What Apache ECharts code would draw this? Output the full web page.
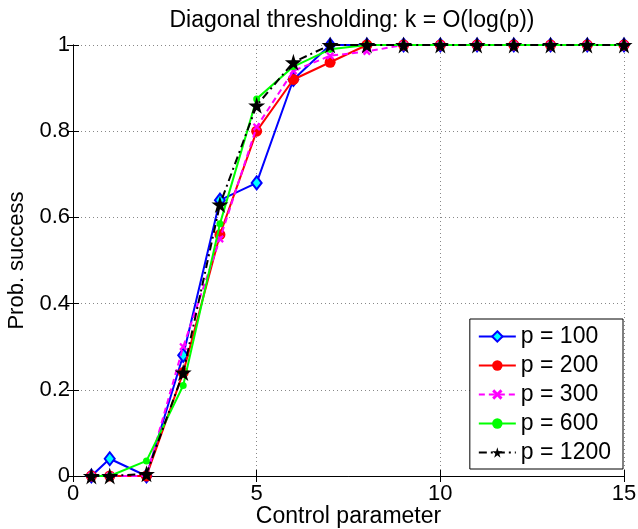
<!DOCTYPE html>
<html><head><meta charset="utf-8">
<script src="https://cdn.jsdelivr.net/npm/echarts@6/dist/echarts.min.js"></script>
<style>html,body{margin:0;padding:0;background:#fff}#c{width:638px;height:529px}</style>
</head><body><div id="c"></div>
<script>
const xs = [0.5, 1, 2, 3, 4, 5, 6, 7, 8, 9, 10, 11, 12, 13, 14, 15];
const p100  = [0, 0.04, 0, 0.28, 0.64, 0.68, 0.92, 1.0, 1, 1, 1, 1, 1, 1, 1, 1];
const p200  = [0, 0, 0, 0.24, 0.56, 0.80, 0.92, 0.96, 1, 1, 1, 1, 1, 1, 1, 1];
const p300  = [0, 0, 0, 0.30, 0.55, 0.81, 0.94, 0.975, 0.985, 1, 1, 1, 1, 1, 1, 1];
const p600  = [0, 0, 0.035, 0.21, 0.585, 0.875, 0.95, 0.99, 1, 1, 1, 1, 1, 1, 1, 1];
const p1200 = [0, 0, 0.005, 0.24, 0.63, 0.86, 0.96, 1.0, 1, 1, 1, 1, 1, 1, 1, 1];
const names = ['p = 100', 'p = 200', 'p = 300', 'p = 600', 'p = 1200'];
const xTicks = [0, 5, 10, 15];
const yTicks = [0, 0.2, 0.4, 0.6, 0.8, 1];

const FONT = 'Liberation Sans, Arial, sans-serif';
const starPath = 'path://M50,0 L61,35 L98,35 L68,57 L79,91 L50,70 L21,91 L32,57 L2,35 L39,35 Z';
const xPath = 'path://M0,2 L2,0 L5,3 L8,0 L10,2 L7,5 L10,8 L8,10 L5,7 L2,10 L0,8 L3,5 Z';
const pair = arr => xs.map((x, i) => [x, arr[i]]);

const chart = echarts.init(document.getElementById('c'));
const axisCommon = {
  axisLine: {show: true, lineStyle: {color: '#000', width: 1}},
  axisTick: {show: true, inside: true, length: 6, lineStyle: {color: '#000'}},
  splitLine: {show: false}
};
const gridLine = {show: true, lineStyle: {color: '#888', type: [1, 3], width: 1}};
chart.setOption({
  animation: false,
  backgroundColor: '#fff',
  title: {text: 'Diagonal thresholding: k = O(log(p))', left: 347, top: 4, textAlign: 'center',
    textStyle: {fontFamily: FONT, fontSize: 23, fontWeight: 'normal', color: '#000'}},
  grid: {left: 73, right: 14, top: 45, bottom: 53, show: false, containLabel: false, outerBoundsMode: 'none'},
  legend: {
    data: names, orient: 'vertical', right: 15, top: 319,
    backgroundColor: '#fff', borderColor: '#000', borderWidth: 1,
    padding: [6, 12, 5, 8], itemWidth: 37, itemHeight: 13, itemGap: 6,
    textStyle: {fontFamily: FONT, fontSize: 23, lineHeight: 22, color: '#000'}
  },
  xAxis: [
    Object.assign({type: 'value', min: 0, max: 15, interval: 5, position: 'bottom',
      name: 'Control parameter', nameLocation: 'middle', nameGap: 29, nameMoveOverlap: false,
      nameTextStyle: {fontFamily: FONT, fontSize: 23, color: '#000'},
      axisLabel: {fontFamily: FONT, fontSize: 22, color: '#000', margin: 7,
        formatter: v => xTicks.includes(v) ? String(v) : ''},
    }, axisCommon, {splitLine: gridLine}),
    Object.assign({type: 'value', min: 0, max: 15, interval: 5, position: 'top',
      axisLabel: {show: false}}, axisCommon)
  ],
  yAxis: [
    Object.assign({type: 'value', min: 0, max: 1, interval: 0.2, position: 'left',
      name: 'Prob. success', nameLocation: 'middle', nameGap: 45,
      nameTextStyle: {fontFamily: FONT, fontSize: 22, color: '#000'},
      axisLabel: {fontFamily: FONT, fontSize: 22, color: '#000', margin: 3,
        formatter: v => { const t = yTicks.find(y => Math.abs(y - v) < 1e-9); return t === undefined ? '' : String(+t.toFixed(1)); }},
    }, axisCommon, {splitLine: gridLine}),
    Object.assign({type: 'value', min: 0, max: 1, interval: 0.2, position: 'right',
      axisLabel: {show: false}}, axisCommon)
  ],
  series: [
    {name: names[0], type: 'line', data: pair(p100), symbol: 'diamond', symbolSize: [10, 13],
      lineStyle: {color: '#0000ff', width: 2}, itemStyle: {color: '#00ffff', borderColor: '#0000ff', borderWidth: 2}, z: 2},
    {name: names[1], type: 'line', data: pair(p200), symbol: 'circle', symbolSize: 11,
      lineStyle: {color: '#ff0000', width: 2}, itemStyle: {color: '#ff0000', borderColor: '#ff0000', borderWidth: 0}, z: 3},
    {name: names[2], type: 'line', data: pair(p300), symbol: xPath, symbolSize: 8,
      lineStyle: {color: '#ff00ff', width: 2, type: [6, 4]}, itemStyle: {color: '#ff00ff', borderWidth: 0}, z: 4},
    {name: names[3], type: 'line', data: pair(p600), symbol: 'circle', symbolSize: 7,
      lineStyle: {color: '#00ff00', width: 2}, itemStyle: {color: '#00ff00', borderWidth: 0}, z: 5},
    {name: names[4], type: 'line', data: pair(p1200), symbol: starPath, symbolSize: 17,
      lineStyle: {color: '#000', width: 2, type: [8, 4, 2, 4]}, itemStyle: {color: '#000', borderWidth: 0}, z: 6}
  ]
});
</script></body></html>
